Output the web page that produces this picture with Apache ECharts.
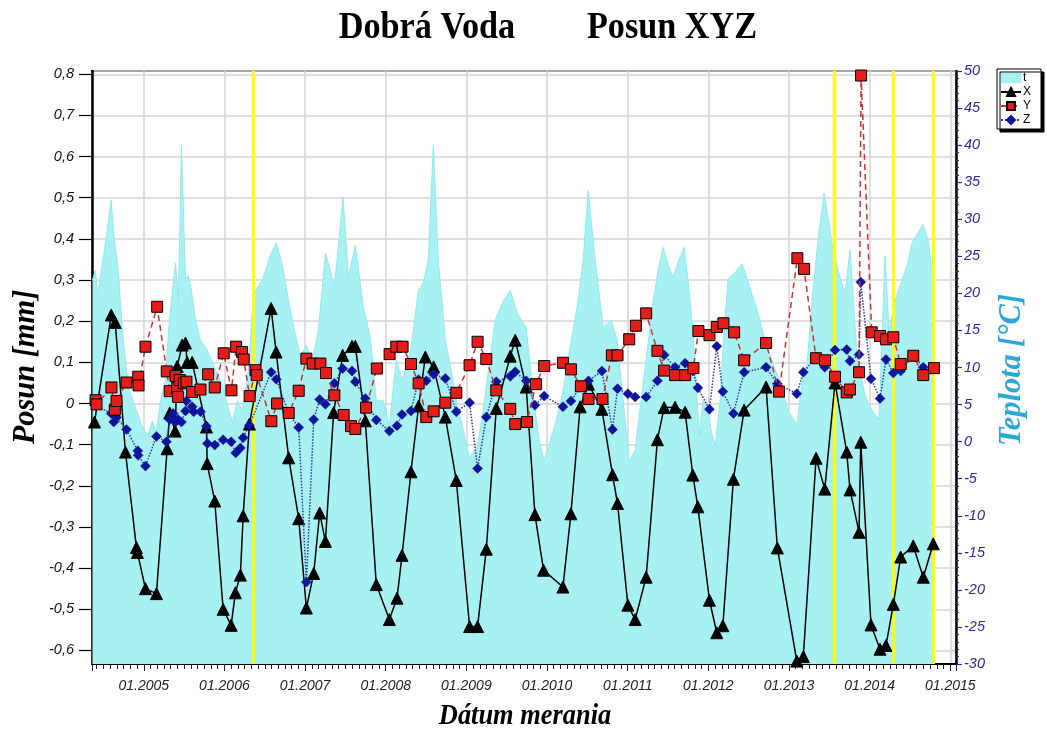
<!DOCTYPE html>
<html><head><meta charset="utf-8">
<script src="https://cdn.jsdelivr.net/npm/echarts@6/dist/echarts.min.js"></script>
<style>html,body{margin:0;padding:0;background:#fff}#c{width:1047px;height:731px}</style>
</head><body><div id="c"></div>
<script>
// ---- data (decimal years) ----
const xDates = [2004.389,2004.597,2004.646,2004.773,2004.909,2004.921,2005.021,2005.157,2005.290,2005.322,2005.389,2005.414,2005.476,2005.517,2005.538,2005.600,2005.777,2005.786,2005.880,2005.984,2006.083,2006.136,2006.198,2006.232,2006.310,2006.579,2006.641,2006.797,2006.921,2007.016,2007.107,2007.181,2007.252,2007.354,2007.466,2007.582,2007.623,2007.747,2007.883,2008.045,2008.140,2008.202,2008.313,2008.408,2008.491,2008.594,2008.739,2008.875,2009.040,2009.139,2009.247,2009.371,2009.544,2009.606,2009.742,2009.850,2009.957,2010.197,2010.296,2010.411,2010.514,2010.680,2010.812,2010.874,2011.003,2011.093,2011.229,2011.369,2011.452,2011.588,2011.712,2011.808,2011.870,2012.014,2012.105,2012.180,2012.311,2012.444,2012.716,2012.856,2013.097,2013.178,2013.336,2013.444,2013.571,2013.716,2013.757,2013.869,2013.890,2014.017,2014.129,2014.203,2014.294,2014.385,2014.541,2014.665,2014.789];
const xVals = [-0.045,0.215,0.197,-0.118,-0.35,-0.362,-0.45,-0.462,-0.11,-0.023,-0.067,0.09,0.142,0.147,0.10,0.10,-0.057,-0.146,-0.237,-0.50,-0.539,-0.46,-0.417,-0.273,-0.05,0.231,0.125,-0.132,-0.28,-0.497,-0.413,-0.266,-0.335,-0.022,0.117,0.139,0.139,-0.042,-0.44,-0.525,-0.473,-0.369,-0.166,-0.006,0.113,0.089,-0.033,-0.187,-0.542,-0.542,-0.354,-0.012,0.115,0.154,0.04,-0.27,-0.405,-0.446,-0.268,-0.008,0.047,-0.014,-0.173,-0.243,-0.49,-0.525,-0.422,-0.088,-0.01,-0.009,-0.021,-0.174,-0.251,-0.478,-0.557,-0.54,-0.184,-0.016,0.04,-0.351,-0.626,-0.615,-0.133,-0.208,0.05,-0.118,-0.21,-0.313,-0.094,-0.538,-0.597,-0.588,-0.488,-0.373,-0.346,-0.422,-0.341];

const yDates = [2004.402,2004.414,2004.599,2004.641,2004.662,2004.786,2004.931,2004.935,2005.021,2005.166,2005.285,2005.322,2005.393,2005.414,2005.426,2005.446,2005.496,2005.529,2005.600,2005.703,2005.798,2005.880,2005.991,2006.087,2006.145,2006.219,2006.239,2006.313,2006.385,2006.400,2006.582,2006.653,2006.797,2006.921,2007.016,2007.094,2007.190,2007.260,2007.363,2007.478,2007.570,2007.623,2007.756,2007.890,2008.048,2008.131,2008.209,2008.313,2008.408,2008.503,2008.594,2008.739,2008.875,2009.040,2009.139,2009.247,2009.371,2009.544,2009.606,2009.751,2009.862,2009.965,2010.197,2010.296,2010.420,2010.514,2010.688,2010.804,2010.874,2011.019,2011.102,2011.229,2011.369,2011.452,2011.588,2011.712,2011.815,2011.877,2012.014,2012.105,2012.187,2012.320,2012.444,2012.716,2012.877,2013.104,2013.187,2013.336,2013.447,2013.571,2013.716,2013.757,2013.869,2013.894,2014.026,2014.129,2014.203,2014.294,2014.385,2014.541,2014.665,2014.798];
const yVals = [0.008,-0.002,0.039,-0.015,0.006,0.051,0.065,0.044,0.138,0.235,0.078,0.03,0.067,0.038,0.016,0.057,0.049,0.053,0.028,0.034,0.071,0.039,0.122,0.032,0.138,0.125,0.107,0.018,0.081,0.069,-0.043,0.0,-0.023,0.031,0.109,0.097,0.097,0.074,0.02,-0.028,-0.055,-0.062,-0.01,0.085,0.12,0.138,0.138,0.096,0.049,-0.033,-0.019,0.002,0.026,0.093,0.15,0.108,0.032,-0.013,-0.05,-0.045,0.047,0.091,0.099,0.083,0.042,0.011,0.011,0.117,0.117,0.156,0.189,0.219,0.128,0.08,0.069,0.069,0.086,0.176,0.166,0.186,0.195,0.173,0.105,0.147,0.029,0.353,0.327,0.11,0.105,0.065,0.027,0.034,0.076,0.797,0.173,0.164,0.156,0.161,0.096,0.116,0.069,0.086];

const zDates = [2004.402,2004.596,2004.628,2004.662,2004.786,2004.926,2004.930,2005.021,2005.157,2005.281,2005.322,2005.364,2005.393,2005.426,2005.467,2005.517,2005.529,2005.600,2005.620,2005.703,2005.777,2005.789,2005.880,2005.984,2006.083,2006.140,2006.198,2006.232,2006.310,2006.579,2006.644,2006.797,2006.921,2007.016,2007.107,2007.181,2007.252,2007.363,2007.466,2007.582,2007.623,2007.747,2007.883,2008.045,2008.140,2008.202,2008.313,2008.408,2008.503,2008.594,2008.739,2008.875,2009.040,2009.139,2009.247,2009.371,2009.544,2009.606,2009.742,2009.850,2009.965,2010.197,2010.296,2010.411,2010.514,2010.680,2010.812,2010.874,2011.003,2011.093,2011.229,2011.369,2011.452,2011.588,2011.712,2011.808,2011.870,2012.014,2012.105,2012.180,2012.311,2012.444,2012.716,2012.856,2013.097,2013.178,2013.336,2013.444,2013.571,2013.716,2013.757,2013.869,2013.890,2014.017,2014.129,2014.203,2014.294,2014.385,2014.541,2014.665,2014.798];
const zVals = [-0.005,-0.024,-0.045,-0.034,-0.063,-0.115,-0.126,-0.152,-0.08,-0.093,-0.039,-0.024,-0.045,-0.039,-0.045,-0.018,0.006,-0.008,-0.02,-0.02,-0.055,-0.097,-0.101,-0.088,-0.093,-0.12,-0.108,-0.083,-0.053,0.076,0.059,-0.024,-0.058,-0.434,-0.039,0.01,-0.002,0.049,0.085,0.079,0.053,0.012,-0.04,-0.067,-0.054,-0.027,-0.018,0.058,0.055,0.071,0.061,-0.02,0.002,-0.158,-0.033,0.053,0.066,0.077,0.055,-0.004,0.018,-0.008,0.006,0.04,0.055,0.079,-0.063,0.036,0.024,0.016,0.016,0.055,0.118,0.088,0.098,0.079,0.038,-0.014,0.139,0.029,-0.024,0.076,0.088,0.048,0.024,0.076,0.113,0.088,0.13,0.131,0.103,0.119,0.295,0.06,0.012,0.107,0.074,0.079,0.117,0.088,0.086];

const tDates = [2004.364,2004.401,2004.426,2004.513,2004.596,2004.625,2004.686,2004.736,2004.786,2004.835,2004.909,2004.972,2005.046,2005.108,2005.157,2005.207,2005.269,2005.306,2005.356,2005.393,2005.430,2005.467,2005.517,2005.554,2005.591,2005.641,2005.703,2005.790,2005.864,2005.975,2006.037,2006.099,2006.161,2006.223,2006.297,2006.359,2006.471,2006.570,2006.644,2006.719,2006.793,2006.867,2006.942,2007.016,2007.090,2007.165,2007.252,2007.314,2007.363,2007.471,2007.537,2007.624,2007.723,2007.809,2007.883,2007.970,2008.045,2008.131,2008.206,2008.317,2008.404,2008.466,2008.528,2008.590,2008.652,2008.739,2008.813,2008.875,2008.962,2009.036,2009.135,2009.210,2009.272,2009.358,2009.458,2009.544,2009.631,2009.742,2009.829,2009.903,2009.965,2010.040,2010.114,2010.201,2010.287,2010.386,2010.448,2010.510,2010.597,2010.696,2010.795,2010.870,2010.944,2011.019,2011.093,2011.167,2011.242,2011.316,2011.390,2011.440,2011.502,2011.564,2011.626,2011.700,2011.762,2011.812,2011.886,2011.936,2011.985,2012.035,2012.084,2012.146,2012.196,2012.246,2012.332,2012.419,2012.506,2012.605,2012.704,2012.803,2012.890,2012.989,2013.100,2013.162,2013.224,2013.286,2013.361,2013.435,2013.534,2013.608,2013.695,2013.757,2013.844,2013.943,2014.030,2014.117,2014.191,2014.240,2014.315,2014.401,2014.476,2014.525,2014.662,2014.724,2014.798];
const tVals = [21.8,23.1,19.7,25.8,32.6,28.1,22.7,15.0,9.6,6.5,4.2,2.2,0.8,2.8,1.2,5.5,8.2,15,20.4,24.1,19.1,40,21.8,22.4,20.4,16.4,13.6,12.3,10.3,7.6,4.9,2.6,5.5,4.2,9.6,20,21.8,25.1,26.8,23.8,19.1,15,11.6,13,10.9,15,25.4,23.1,20.8,33,22.2,26.5,18.1,14,5.5,5.5,2.2,11,8.2,12.7,20.4,21.4,24.5,40,24.5,13.6,9.6,5.5,1.5,-2.1,-0.8,4.2,9.6,16.4,19,20.4,17.3,15.4,6.2,0.1,-2.6,0.1,2.8,6.9,12.7,19,24.5,33.9,24.5,15.4,16.4,13.6,5.5,-2.6,-1.2,5.5,12.3,19,23.8,26.2,23.8,22.2,24.2,26.2,20.4,14.6,0.9,5.5,5.1,1.5,-0.7,5.5,15,22,22.8,24,21.1,17.7,13.6,10.4,8.2,4.2,2.2,8.2,10.4,19,27.2,33.5,26.8,23.1,19.9,25.9,11.5,6.2,4.2,3.0,25.1,15,19,21.8,24.2,26.8,29.3,27.2,21.5];

const markerYears = [2006.363, 2013.559, 2014.287, 2014.792];

const pair = (d, v) => d.map((x, i) => [x, v[i]]);
const serif = '"Liberation Serif","Times New Roman",serif';
const sans = '"Liberation Sans",Arial,sans-serif';

const chart = echarts.init(document.getElementById('c'));
chart.setOption({
  animation: false,
  backgroundColor: '#fff',
  legend: {
    data: [{name: 't', icon: 'rect'}, 'X', 'Y', 'Z'],
    orient: 'vertical', left: 997, top: 69,
    itemWidth: 20, itemHeight: 10, itemGap: 2,
    padding: [3, 10, 3, 3],
    backgroundColor: '#fff', borderColor: '#000', borderWidth: 1,
    shadowColor: '#000', shadowBlur: 0, shadowOffsetX: 3, shadowOffsetY: 3,
    textStyle: {fontFamily: sans, fontSize: 12, color: '#000', padding: [0, 0, 0, -3]}
  },
  grid: {left: 92, right: 91, top: 71, bottom: 67, show: true, borderColor: '#222', borderWidth: 2, backgroundColor: 'transparent', outerBoundsMode: 'none'},
  xAxis: {
    type: 'value', min: 2004.358, max: 2015.071, minInterval: 1, maxInterval: 1, splitNumber: 11,
    axisLine: {show: true, onZero: false, lineStyle: {color: '#000', width: 2}},
    axisTick: {show: true, length: 7, lineStyle: {color: '#222', width: 1}},
    minorTick: {show: true, splitNumber: 12, length: 5, lineStyle: {color: '#222', width: 1}},
    axisLabel: {showMinLabel: false, showMaxLabel: false, margin: 15, fontFamily: sans, fontStyle: 'italic', fontSize: 14, color: '#222',
      formatter: v => '01.' + Math.round(v)},
    splitLine: {show: true, lineStyle: {color: '#d4d4d4', width: 1.5}}
  },
  yAxis: [
    {
      type: 'value', min: -0.633, max: 0.808, minInterval: 0.1, maxInterval: 0.1, splitNumber: 14,
      axisLine: {show: true, onZero: false, lineStyle: {color: '#000', width: 2.5}},
      axisTick: {show: true, length: 13, lineStyle: {color: '#000', width: 1.2}},
      axisLabel: {showMinLabel: false, showMaxLabel: false, margin: 18, fontFamily: sans, fontStyle: 'italic', fontSize: 14.5, color: '#111',
        formatter: v => { const r = Math.round(v * 10) / 10; return r === 0 ? '0' : r.toFixed(1).replace('.', ','); }},
      splitLine: {show: true, lineStyle: {color: '#d4d4d4', width: 1.5}}
    },
    {
      type: 'value', min: -30, max: 50, interval: 5, position: 'right',
      axisLine: {show: true, onZero: false, lineStyle: {color: '#000', width: 2.5}},
      axisTick: {show: true, length: 6, lineStyle: {color: '#2b2b9c', width: 1.2}},
      minorTick: {show: true, splitNumber: 5, length: 3, lineStyle: {color: '#333', width: 1}},
      axisLabel: {margin: 8, fontFamily: sans, fontStyle: 'italic', fontSize: 14.5, color: '#2a2aa0'},
      splitLine: {show: false}
    }
  ],
  graphic: [
    {type: 'text', x: 427, y: 28, scaleX: 0.9, z: 100,
      style: {text: 'Dobrá Voda', font: 'bold 38px ' + serif, fill: '#000', textAlign: 'center', textVerticalAlign: 'middle'}},
    {type: 'text', x: 672, y: 28, scaleX: 0.9, z: 100,
      style: {text: 'Posun XYZ', font: 'bold 38px ' + serif, fill: '#000', textAlign: 'center', textVerticalAlign: 'middle'}},
    {type: 'text', x: 26, y: 367, rotation: Math.PI / 2, scaleX: 0.95, z: 100,
      style: {text: 'Posun [mm]', font: 'italic bold 32px ' + serif, fill: '#000', textAlign: 'center', textVerticalAlign: 'middle'}},
    {type: 'text', x: 1012, y: 370, rotation: Math.PI / 2, scaleX: 0.95, z: 100,
      style: {text: 'Teplota [°C]', font: 'italic bold 32px ' + serif, fill: '#2aa6da', textAlign: 'center', textVerticalAlign: 'middle'}},
    {type: 'text', x: 525, y: 716, scaleX: 0.88, z: 100,
      style: {text: 'Dátum merania', font: 'italic bold 30px ' + serif, fill: '#000', textAlign: 'center', textVerticalAlign: 'middle'}}
  ],
  series: [
    {
      name: 't', type: 'line', yAxisIndex: 1, data: pair(tDates, tVals), symbol: 'none', z: 1,
      lineStyle: {width: 1, color: '#8fe9ef'}, itemStyle: {color: '#a8f1f2'},
      areaStyle: {color: '#a8f1f2', opacity: 1, origin: 'start'},
      markLine: {silent: true, z: 2, symbol: ['none', 'none'], label: {show: false},
        lineStyle: {color: '#ffff00', width: 3, type: 'solid'},
        data: markerYears.map(v => ({xAxis: v}))}
    },
    {
      name: 'X', type: 'line', data: pair(xDates, xVals), z: 3,
      symbol: 'triangle', symbolSize: 12,
      itemStyle: {color: '#000', borderColor: '#000', borderWidth: 1},
      lineStyle: {color: '#000', width: 1.5}
    },
    {
      name: 'Z', type: 'line', data: pair(zDates, zVals), z: 4,
      symbol: 'diamond', symbolSize: 10,
      itemStyle: {color: '#10149c', borderColor: '#10149c', borderWidth: 0.5},
      lineStyle: {color: '#2a3a92', width: 1.5, type: 'dotted'}
    },
    {
      name: 'Y', type: 'line', data: pair(yDates, yVals), z: 5,
      symbol: 'rect', symbolSize: 11,
      itemStyle: {color: '#e61c18', borderColor: '#000', borderWidth: 1},
      lineStyle: {color: '#cc3030', width: 1.5, type: [6, 4]}
    }
  ]
});
</script>
</body></html>
